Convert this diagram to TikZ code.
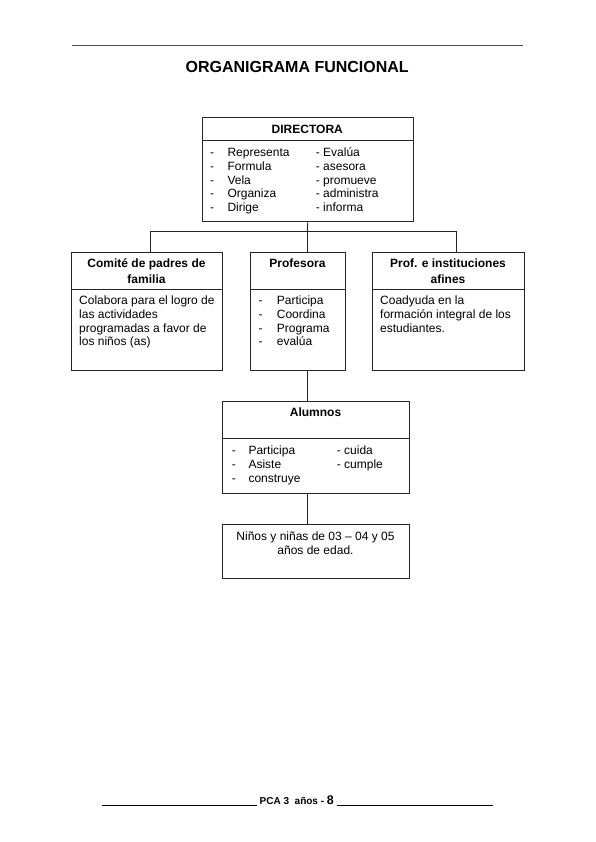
\documentclass[tikz,border=0pt]{standalone}
\usepackage{fontspec}
\setmainfont{Liberation Sans}
\begin{document}
\begin{tikzpicture}[x=1pt,y=-1pt]
\tikzset{
  box/.style={draw=black!85, line width=0.9pt, anchor=north west, inner sep=0pt},
  divl/.style={draw=black!85, line width=0.9pt},
  txt/.style={anchor=base west, inner sep=0pt, font=\fontsize{12}{13.8}\selectfont},
  ctxt/.style={anchor=base, inner sep=0pt, font=\fontsize{12}{13.8}\selectfont},
  hdr/.style={anchor=base, inner sep=0pt, font=\fontsize{12}{13.8}\selectfont\bfseries},
  conn/.style={draw=black!85, line width=0.9pt},
  rule/.style={draw=black!70, line width=0.7pt}
}
\useasboundingbox (0,0) rectangle (595,842);
\fill[white] (0,0) rectangle (595,842);

% top rule and title
\coordinate (tl) at (72.3,45.7);
\coordinate (tr) at (522.7,45.7);
\draw[rule] (tl) -- (tr);
\node[anchor=base, inner sep=0pt, font=\fontsize{16}{19}\selectfont\bfseries] (title) at (297.2,72.7) {ORGANIGRAMA FUNCIONAL};

% boxes
\node[box, minimum width=211.3pt, minimum height=104.3pt] (dir) at (201.7,116.7) {};
\node[box, minimum width=151pt, minimum height=118.3pt] (comite) at (71,251.7) {};
\node[box, minimum width=95pt, minimum height=118.3pt] (profe) at (250,251.7) {};
\node[box, minimum width=152pt, minimum height=118.3pt] (profi) at (372,251.7) {};
\node[box, minimum width=187pt, minimum height=92.3pt] (alum) at (222,400.7) {};
\node[box, minimum width=187pt, minimum height=54.6pt] (ninos) at (222,523.7) {};

% dividers
\draw[divl] (dir.west |- 0,140.5) -- (dir.east |- 0,140.5);
\draw[divl] (comite.west |- 0,289.3) -- (comite.east |- 0,289.3);
\draw[divl] (profe.west |- 0,289.3) -- (profe.east |- 0,289.3);
\draw[divl] (profi.west |- 0,289.3) -- (profi.east |- 0,289.3);
\draw[divl] (alum.west |- 0,438.3) -- (alum.east |- 0,438.3);

% Directora
\node[hdr] (dirh) at (307.3,133.3) {DIRECTORA};
\foreach \t [count=\i] in {Representa,Formula,Vela,Organiza,Dirige}{
  \node[txt] (dd\i) at (210,142.7+13.8*\i) {-};
  \node[txt] (di\i) at (227.3,142.7+13.8*\i) {\t};
}
\foreach \t [count=\i] in {Evalúa,asesora,promueve,administra,informa}{
  \node[txt] (de\i) at (315.7,142.7+13.8*\i) {- \t};
}

% Comite
\node[hdr] (comh1) at (146.5,267.5) {Comité de padres de};
\node[hdr] (comh2) at (146.5,283) {familia};
\foreach \t [count=\i] in {Colabora para el logro de,las actividades,programadas a favor de,los niños (as)}{
  \node[txt] (cb\i) at (79,290.7+13.8*\i) {\t};
}

% Profesora
\node[hdr] (profeh) at (297.5,267.5) {Profesora};
\foreach \t [count=\i] in {Participa,Coordina,Programa,evalúa}{
  \node[txt] (pd\i) at (258.3,290.7+13.8*\i) {-};
  \node[txt] (pi\i) at (276.7,290.7+13.8*\i) {\t};
}

% Prof. e instituciones
\node[hdr] (profih1) at (448,267.5) {Prof. e instituciones};
\node[hdr] (profih2) at (448,283) {afines};
\foreach \t [count=\i] in {Coadyuda en la,formación integral de los,estudiantes.}{
  \node[txt] (qb\i) at (380,290.7+13.8*\i) {\t};
}

% Alumnos
\node[hdr] (alumh) at (315.5,416.5) {Alumnos};
\foreach \t [count=\i] in {Participa,Asiste,construye}{
  \node[txt] (ad\i) at (231.7,440.7+13.8*\i) {-};
  \node[txt] (ai\i) at (248.3,440.7+13.8*\i) {\t};
}
\foreach \t [count=\i] in {cuida,cumple}{
  \node[txt] (ac\i) at (336.7,440.7+13.8*\i) {- \t};
}

% Ninos
\node[ctxt] (n1) at (315.5,540.5) {Niños y niñas de 03 – 04 y 05};
\node[ctxt] (n2) at (315.5,554.3) {años de edad.};

% connectors
\coordinate (jc) at (307.3,231);
\coordinate (jl) at (150,231);
\coordinate (jr) at (456,231);
\draw[conn] (dir.south) -- (jc);
\draw[conn] (jl) -- (jr);
\draw[conn] (jl) -- (jl |- comite.north);
\draw[conn] (jr) -- (jr |- profi.north);
\draw[conn] (jc) -- (jc |- profe.north);
\draw[conn] (profe.south -| jc) -- (alum.north -| jc);
\draw[conn] (alum.south -| jc) -- (ninos.north -| jc);

% footer
\coordinate (fl1) at (102.3,805.3);
\coordinate (fl2) at (256.7,805.3);
\coordinate (fr1) at (336.7,805.3);
\coordinate (fr2) at (492.7,805.3);
\draw[line width=0.8pt] (fl1) -- (fl2);
\draw[line width=0.8pt] (fr1) -- (fr2);
\node[anchor=base west, inner sep=0pt, font=\fontsize{10}{12}\selectfont\bfseries] (foot) at (259.5,804.5) {PCA 3\ \ años - {\fontsize{12.5}{14}\selectfont 8}};
\end{tikzpicture}
\end{document}
